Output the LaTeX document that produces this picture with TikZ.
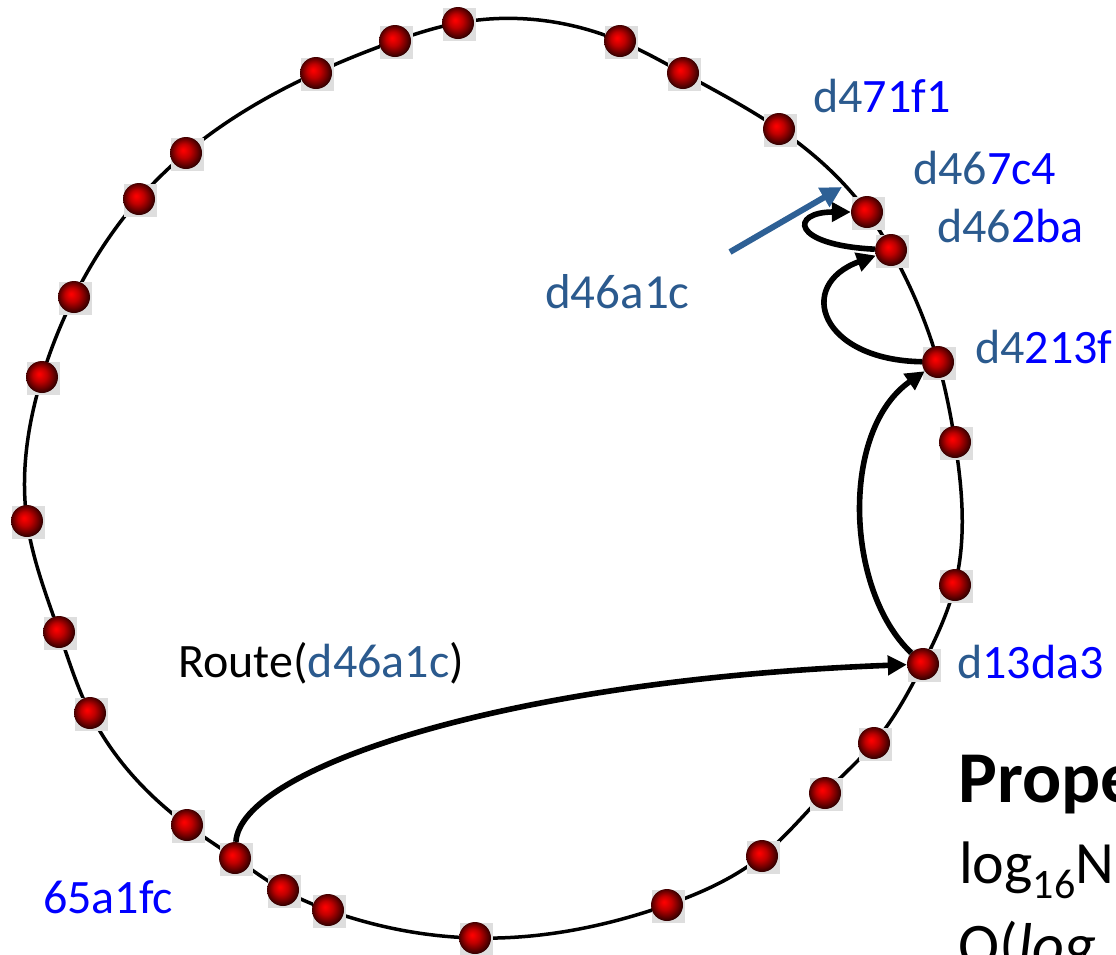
\documentclass[tikz,border=0pt]{standalone}
\usepackage{fontspec}
\setmainfont{Carlito}
\usetikzlibrary{arrows.meta,hobby}

\definecolor{keepblue}{HTML}{2B5A8E}
\definecolor{diffblue}{HTML}{0000FF}
\definecolor{pointerblue}{HTML}{2E6095}

% glossy red sphere, highlight towards the upper left
\pgfdeclareradialshading{redball}{\pgfpoint{-5bp}{5bp}}{%
  color(0bp)=(red!100); color(3bp)=(red!95!black); color(11bp)=(red!75!black);
  color(19bp)=(red!45!black); color(26bp)=(red!18!black); color(35bp)=(black)}

\newcommand{\kp}[1]{\textcolor{keepblue}{#1}}
\newcommand{\df}[1]{\textcolor{diffblue}{#1}}

\tikzset{
  ringline/.style={draw=black, line width=3.5pt},
  ballbox/.style={rectangle, minimum size=33pt, inner sep=0pt, fill=black!13},
  ball/.style={circle, minimum size=32pt, inner sep=0pt, shading=redball},
  hop/.style={draw=black, line width=5.6pt, -{Triangle[length=19pt,width=19pt]}},
  pointer/.style={draw=pointerblue, line width=6pt, -{Triangle[length=21pt,width=21pt]}},
  lbl/.style={anchor=base west, inner sep=0pt, font=\fontsize{48}{48}\selectfont},
}

\begin{document}
\begin{tikzpicture}[x=1pt, y=-1pt]
\useasboundingbox (0,0) rectangle (1116,954);
\clip (0,0) rectangle (1116,954);

% node positions around the ring
\foreach \n/\px/\py in {
  b1/458/23, b2/395/41, b3/316/73, b4/186/153, b5/139/199, b6/74/297,
  b7/42/377, b8/27/521, b9/59/632, b10/90/713, b11/187/825,
  n65a1fc/235/858, b13/283/890, b14/328/910, b15/475/938, b16/667/905,
  b17/762/856, b18/825/793, b19/874/743, nd13da3/923/664, b21/955/585,
  b22/955/442, nd4213f/938/362, nd462ba/891/250, nd467c4/867/212,
  nd471f1/779/129, b27/683/73, b28/620/41}
  \coordinate (\n) at (\px,\py);

% the ring
\draw[ringline, use Hobby shortcut, closed=true]
  (b1) .. (b2) .. (b3) .. (b4) .. (b5) .. (b6) .. (b7) .. (b8) .. (b9) .. (b10)
  .. (b11) .. (n65a1fc) .. (b13) .. (b14) .. (b15) .. (b16) .. (b17) .. (b18)
  .. (b19) .. (nd13da3) .. (b21) .. (b22) .. (nd4213f) .. (nd462ba) .. (nd467c4)
  .. (nd471f1) .. (b27) .. (b28);

% the nodes themselves
\foreach \n in {b1,b2,b3,b4,b5,b6,b7,b8,b9,b10,b11,n65a1fc,b13,b14,b15,b16,
  b17,b18,b19,nd13da3,b21,b22,nd4213f,nd462ba,nd467c4,nd471f1,b27,b28} {
  \node[ballbox] at ([shift={(1,1)}]\n) {};
  \node[ball] (\n-b) at (\n) {};
}

% routing hops
\draw[hop] (n65a1fc-b) .. controls (240,770) and (500,680) .. (nd13da3-b);
\draw[hop] (nd13da3-b) .. controls (845,590) and (840,430) .. (nd4213f-b);
\draw[hop] (nd4213f-b) .. controls (820,360) and (795,285) .. (nd462ba-b);
\draw[hop] (nd462ba-b) .. controls (790,245) and (790,212) .. (nd467c4-b);

% key position pointer
\coordinate (keytail) at (730,252);
\coordinate (keyhead) at (842,187);
\draw[pointer] (keytail) -- (keyhead);

% labels
\node[lbl] (t471) at (813,112) {\kp{d4}\df{71f1}};
\node[lbl] (t467) at (913,184) {\kp{d46}\df{7c4}};
\node[lbl] (t462) at (937,242) {\kp{d46}\df{2ba}};
\node[lbl] (t421) at (975,363) {\kp{d4}\df{213f}};
\node[lbl] (t13d) at (957,678) {\kp{d}\df{13da3}};
\node[lbl] (t65a) at (43,913) {\df{65a1fc}};
\node[lbl, font=\fontsize{49}{49}\selectfont] (tkey) at (545,308) {\kp{d46a1c}};
\node[lbl] (troute) at (178,677) {Route(\kp{d46a1c})};

% properties text at the lower right
\node[anchor=base west, inner sep=0pt, font=\fontsize{73}{73}\selectfont\bfseries] (tprop) at (958,802) {Prope};
\node[anchor=base west, inner sep=0pt, font=\fontsize{60}{60}\selectfont] (tlog) at (959,883)
  {log\raisebox{-15pt}{\fontsize{42}{42}\selectfont 16}N};
\node[anchor=base west, inner sep=0pt, font=\fontsize{62}{62}\selectfont] (tord) at (958,966)
  {O(\textit{log}};
\end{tikzpicture}
\end{document}
